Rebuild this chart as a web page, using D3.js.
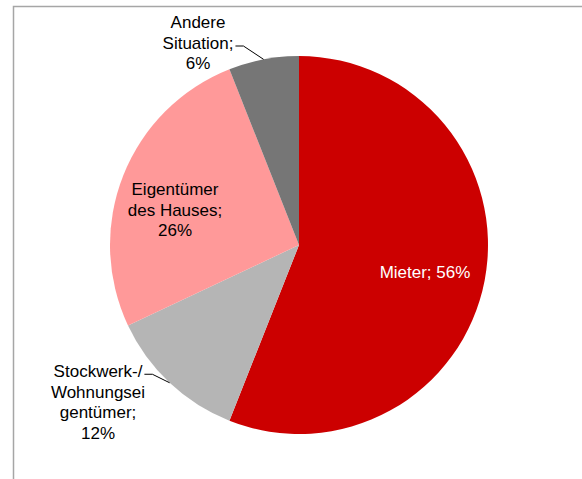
<!DOCTYPE html>
<html>
<head>
<meta charset="utf-8">
<script src="https://cdn.jsdelivr.net/npm/d3@7"></script>
<style>
  html, body { margin: 0; padding: 0; background: #fff; }
  svg { display: block; }
</style>
</head>
<body>
<div id="chart"></div>
<script>
// data
const categories = ["Mieter", "Stockwerk-/ Wohnungseigentümer", "Eigentümer des Hauses", "Andere Situation"];
const values = [56, 12, 26, 6];
const labelLines = [
  ["Mieter; 56%"],
  ["Stockwerk-/", "Wohnungsei", "gentümer;", "12%"],
  ["Eigentümer", "des Hauses;", "26%"],
  ["Andere", "Situation;", "6%"]
];
const colors = ["#cc0000", "#b5b5b5", "#ff9999", "#767676"];

const width = 582, height = 479;
const cx = 299, cy = 245, radius = 189;

// label centres relative to pie centre, plus which side the leader sits on
const labelLayout = [
  { dx: 126, dy: 27, fill: "#fff", leader: false },
  { dx: -201, dy: 157, fill: "#000", leader: true, side: "right", line: 0 },
  { dx: -124, dy: -35, fill: "#000", leader: false },
  { dx: -101, dy: -202, fill: "#000", leader: true, side: "right", line: 1 }
];

const fontSize = 17, lineH = 20.5;

const svg = d3.select('#chart').append('svg')
  .attr('width', width)
  .attr('height', height);

// chart area frame (runs off right and bottom)
svg.append('path')
  .attr('d', `M13.5,${height}V6.5H${width}`)
  .attr('fill', 'none')
  .attr('stroke', '#a6a6a6')
  .attr('stroke-width', 1.5);

const pie = d3.pie().sort(null).value(d => d);
const arcs = pie(values);
const arc = d3.arc().innerRadius(0).outerRadius(radius);

const g = svg.append('g').attr('transform', `translate(${cx},${cy})`);

g.selectAll('path.slice')
  .data(arcs)
  .join('path')
  .attr('class', 'slice')
  .attr('d', arc)
  .attr('fill', (d, i) => colors[i]);

// labels
arcs.forEach((a, i) => {
  const L = labelLayout[i];
  const lines = labelLines[i];
  const top = L.dy - (lines.length - 1) * lineH / 2;
  const t = g.append('text')
    .attr('text-anchor', 'middle')
    .style('font-family', '"Liberation Sans", Arial, sans-serif')
    .style('font-size', fontSize + 'px')
    .style('fill', L.fill);
  lines.forEach((s, k) => {
    t.append('tspan')
      .attr('x', L.dx)
      .attr('y', top + k * lineH)
      .attr('dy', '0.35em')
      .text(s);
  });

  if (L.leader) {
    // leader from end of label line to outer edge at slice mid angle
    const mid = (a.startAngle + a.endAngle) / 2;
    const ex = Math.sin(mid) * radius, ey = -Math.cos(mid) * radius;
    const tmp = t.select(`tspan:nth-child(${L.line + 1})`).node();
    const w = tmp.getComputedTextLength();
    const lx = L.dx + w / 2 + 2;
    const ly = top + L.line * lineH + 3;
    g.append('polyline')
      .attr('points', `${lx},${ly} ${lx + 8},${ly} ${ex},${ey}`)
      .attr('fill', 'none')
      .attr('stroke', '#000')
      .attr('stroke-width', 1);
  }
});
</script>
</body>
</html>
